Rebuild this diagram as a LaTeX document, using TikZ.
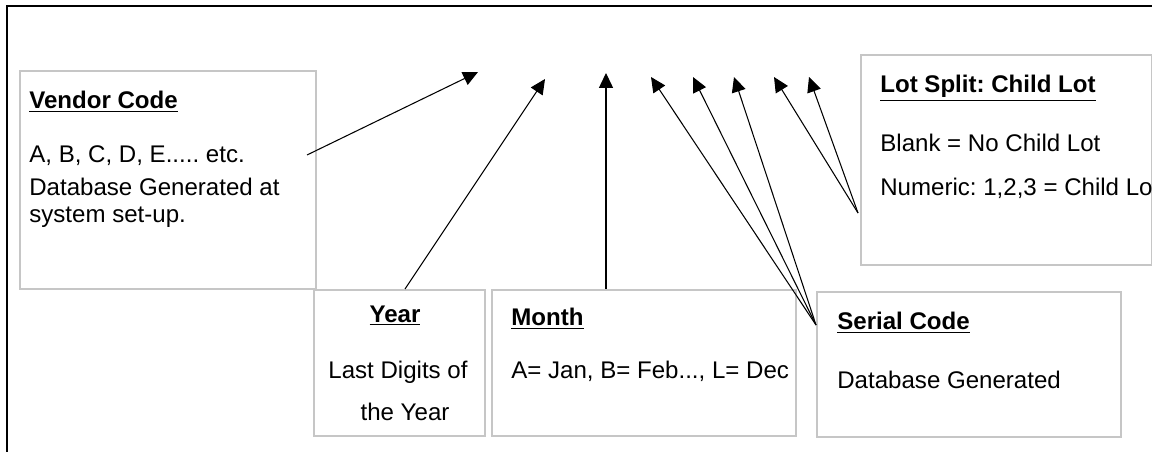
\documentclass[tikz,border=0pt]{standalone}
\usepackage{fontspec}
\setmainfont{Liberation Sans}
\usepackage{tikz}
\usetikzlibrary{arrows.meta, positioning, calc}

\newcommand{\boxtitle}[1]{\textbf{\underline{#1}}}
\frenchspacing

\begin{document}
\begin{tikzpicture}[x=0.02cm, y=-0.02cm,
  font=\fontsize{13.7}{16}\selectfont,
  codebox/.style={draw=gray!45, line width=0.9pt, fill=white,
    inner sep=0pt, anchor=north west},
  lbl/.style={anchor=base west, inner sep=0pt},
  clbl/.style={anchor=base, inner sep=0pt},
  pointer/.style={-{Triangle[length=8.5pt, width=8pt]}, line width=0.6pt}]

  \useasboundingbox (0,0) rectangle (1152,452);

  % --- Frame ---
  \draw[line width=1.3pt] (7,452) -- (7,6) -- (1152,6);

  % --- Boxes ---
  \node[codebox, minimum width=5.92cm, minimum height=4.36cm] (vendor) at (19,70) {};
  \node[codebox, minimum width=3.42cm, minimum height=2.92cm] (year) at (313,289) {};
  \node[codebox, minimum width=6.08cm, minimum height=2.92cm] (month) at (491,289) {};
  \node[codebox, minimum width=6.08cm, minimum height=2.90cm] (serial) at (816,291) {};
  \node[codebox, minimum width=5.82cm, minimum height=4.20cm] (lotsplit) at (860,54) {};

  % --- Vendor Code ---
  \node[lbl] (vendortitle) at (29,109) {\boxtitle{Vendor Code}};
  \node[lbl] (vendorline1) at (29,163) {A, B, C, D, E..... etc.};
  \node[lbl] (vendorline2) at (29,196) {Database Generated at};
  \node[lbl] (vendorline3) at (29,223) {system set-up.};

  % --- Year ---
  \node[clbl] (yeartitle) at (395,322) {\boxtitle{Year}};
  \node[clbl] (yearline1) at (398,378) {Last Digits of};
  \node[clbl] (yearline2) at (405,420) {the Year};

  % --- Month ---
  \node[lbl] (monthtitle) at (511,326) {\boxtitle{Month}};
  \node[lbl] (monthline1) at (511,378) {A= Jan, B= Feb..., L= Dec};

  % --- Serial Code ---
  \node[lbl] (serialtitle) at (837,330) {\boxtitle{Serial Code}};
  \node[lbl] (serialline1) at (837,388) {Database Generated};

  % --- Lot Split ---
  \node[lbl] (lottitle) at (880,93) {\boxtitle{Lot Split: Child Lot}};
  \node[lbl] (lotline1) at (880,152) {Blank = No Child Lot};
  \node[lbl] (lotline2) at (880,196) {Numeric: 1,2,3 = Child Lot};

  % --- Arrow ends ---
  \coordinate (vendorout) at (307,155);
  \coordinate (yearout) at (405,289);
  \coordinate (monthout) at (606,289);
  \coordinate (serialhub) at (816,325);
  \coordinate (lothub) at (858,213);

  \coordinate (tipA) at (478,72);
  \coordinate (tipB) at (545,79);
  \coordinate (tipC) at (606,73);
  \coordinate (tipD) at (651,77);
  \coordinate (tipE) at (693,77);
  \coordinate (tipF) at (734,77);
  \coordinate (tipG) at (774,77);
  \coordinate (tipH) at (809,77);

  % --- Arrows ---
  \draw[pointer] (vendorout) -- (tipA);
  \draw[pointer] (yearout) -- (tipB);
  \draw[pointer] (monthout) -- (tipC);
  \foreach \t in {tipD,tipE,tipF}{
    \draw[pointer] (serialhub) -- (\t);
  }
  \foreach \t in {tipG,tipH}{
    \draw[pointer] (lothub) -- (\t);
  }

\end{tikzpicture}
\end{document}
